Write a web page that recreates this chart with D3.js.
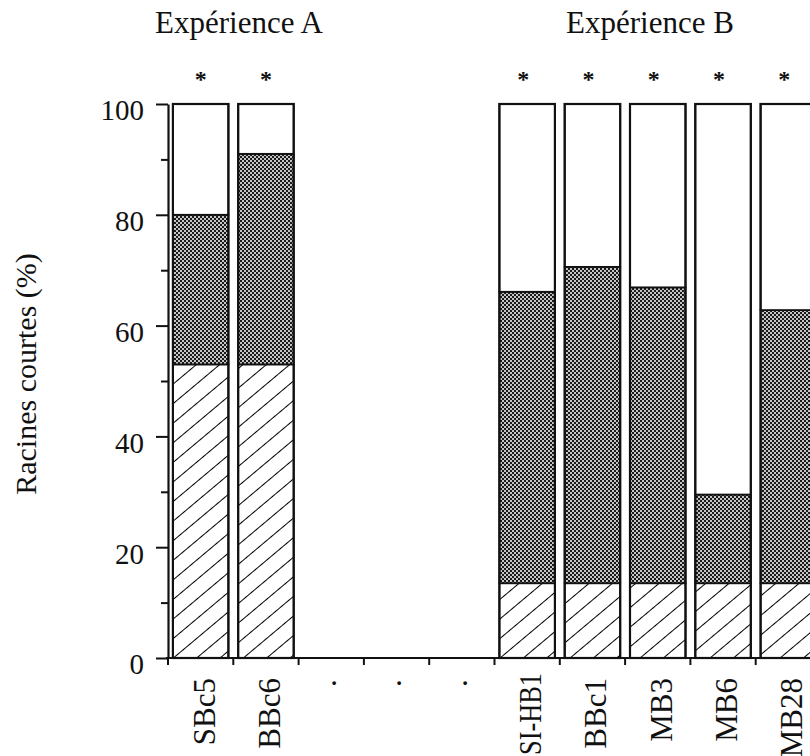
<!DOCTYPE html>
<html><head><meta charset="utf-8">
<script src="https://cdn.jsdelivr.net/npm/d3@7"></script>
<style>
html,body{margin:0;padding:0;background:#fff;}
svg{display:block;}
text{font-family:"Liberation Serif","Times New Roman",serif;fill:#111;}
</style></head>
<body>
<svg id="chart" width="810" height="756"></svg>
<script>
// ---- data ----
const categories = ["SBc5","BBc6","gap1","gap2","gap3","SI-HB1","BBc1","MB3","MB6","MB28"];
const tickLabels = ["SBc5","BBc6","·","·","·","SI-HB1","BBc1","MB3","MB6","MB28"];
const hatched   = [53, 53, null, null, null, 13.5, 13.5, 13.5, 13.5, 13.5];
const stippled  = [27, 38, null, null, null, 52.6, 57.1, 53.4, 16, 49.3];
const white     = [20, 9,  null, null, null, 33.9, 29.4, 33.1, 70.5, 37.2];
const significant = [true, true, false, false, false, true, true, true, true, true];
const groupTitles = ["Expérience A", "Expérience B"];
const yTicks = [0,10,20,30,40,50,60,70,80,90,100];
const yLabel = "Racines courtes (%)";

// ---- scales ----
const svg = d3.select("#chart");
const x = d3.scaleBand().domain(categories).range([168, 821]).padding(0);
const y = d3.scaleLinear().domain([0, 100]).range([658, 104]);
const inset = x.bandwidth() * 0.075;
const bw = x.bandwidth() * 0.85;

// ---- patterns ----
const defs = svg.append("defs");
const st = defs.append("pattern").attr("id","stipple").attr("patternUnits","userSpaceOnUse")
  .attr("width",4).attr("height",4);
st.append("rect").attr("width",4).attr("height",4).attr("fill","#c4c4c4");
st.append("rect").attr("x",0).attr("y",0).attr("width",2).attr("height",2).attr("fill","#1a1a1a");
st.append("rect").attr("x",2).attr("y",2).attr("width",2).attr("height",2).attr("fill","#1a1a1a");
const ht = defs.append("pattern").attr("id","hatch").attr("patternUnits","userSpaceOnUse")
  .attr("width",15).attr("height",15).attr("patternTransform","rotate(50)");
ht.append("rect").attr("width",15).attr("height",15).attr("fill","#fff");
ht.append("line").attr("x1",0).attr("y1",0).attr("x2",0).attr("y2",15)
  .attr("stroke","#000").attr("stroke-width",2);

// ---- bars ----
const rows = categories.map((c,i)=>({c, h:hatched[i], s:stippled[i], w:white[i], sig:significant[i]}));
const barRows = rows.filter(r=>r.h!==null);
const g = svg.append("g");
barRows.forEach(r=>{
  const x0 = x(r.c) + inset;
  const segs = [
    {a:0, b:r.h, fill:"url(#hatch)"},
    {a:r.h, b:r.h+r.s, fill:"url(#stipple)"},
    {a:r.h+r.s, b:r.h+r.s+r.w, fill:"#fff"}
  ];
  g.selectAll(null).data(segs).enter().append("rect")
    .attr("x", x0).attr("width", bw)
    .attr("y", d=>y(d.b)).attr("height", d=>y(d.a)-y(d.b))
    .attr("fill", d=>d.fill).attr("stroke","#111").attr("stroke-width",1.8);
  g.append("rect").attr("x",x0).attr("width",bw).attr("y",y(100)).attr("height",y(0)-y(100))
    .attr("fill","none").attr("stroke","#111").attr("stroke-width",2.2);
  if (r.sig) {
    const off = x(r.c) > 400 ? -4 : 0;
    svg.append("text").attr("x", x(r.c)+x.bandwidth()/2 + off).attr("y", 87)
      .attr("text-anchor","middle").style("font-size","24px").style("font-weight","bold").text("*");
  }
});

// ---- y axis ----
const yAxis = d3.axisLeft(y).tickValues(yTicks).tickSizeOuter(0)
  .tickFormat(d => d % 20 === 0 ? d : "");
const ya = svg.append("g").attr("transform","translate(168,0)").call(yAxis);
ya.select(".domain").attr("stroke","#111").attr("stroke-width",2.2);
ya.selectAll(".tick line").attr("stroke","#111").attr("stroke-width",2)
  .attr("x2", d => d % 20 === 0 ? -12 : -7);
ya.selectAll(".tick text").attr("x",-24).attr("dy","0.55em")
  .style("font-size","29px").style("font-family","Liberation Serif").attr("fill","#111");

// ---- x axis ----
const xa = svg.append("g").attr("transform","translate(0,658)")
  .call(d3.axisBottom(x).tickSize(0).tickSizeOuter(0).tickFormat((d,i)=>tickLabels[i]));
xa.select(".domain").remove();
xa.append("line").attr("x1",166).attr("x2",810).attr("y1",0).attr("y2",0)
  .attr("stroke","#111").attr("stroke-width",2.2);
xa.selectAll(null).data(categories).enter().append("line")
  .attr("x1", d=>x(d)).attr("x2", d=>x(d)).attr("y1",0).attr("y2",7)
  .attr("stroke","#111").attr("stroke-width",2);
xa.selectAll(".tick text")
  .attr("transform","rotate(-90)").attr("text-anchor","end")
  .attr("x", d => d === "SI-HB1" ? -15 : -20).attr("y",3).attr("dy","0.35em")
  .style("font-size","31px").style("font-family","Liberation Serif").attr("fill","#111")
  .each(function(d){ if (d === "SI-HB1") d3.select(this).attr("textLength",82).attr("lengthAdjust","spacingAndGlyphs"); });

// ---- group titles ----
const titleX = [239, 650];
groupTitles.forEach((t,i)=>{
  svg.append("text").attr("x", titleX[i]).attr("y", 33).attr("text-anchor","middle")
    .style("font-size","31px").text(t);
});

// ---- y label ----
svg.append("text").attr("transform","translate(36,374) rotate(-90)").attr("text-anchor","middle")
  .style("font-size","30px").text(yLabel);
</script>
</body></html>
